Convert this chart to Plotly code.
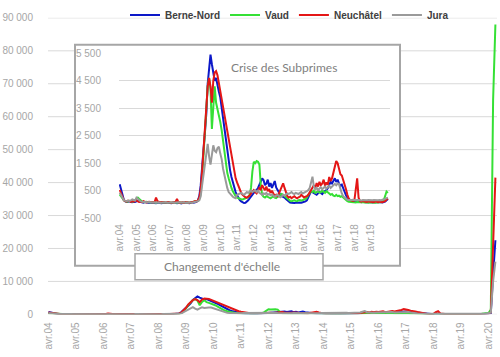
import plotly.graph_objects as go

# ---------------- data (monthly, starting avr.04) ----------------
berne_nord = [
    735, 520, 300, 160, 110, 90, 100, 120, 90, 80, 100, 90,
    110, 130, 100, 80, 70, 60, 90, 70, 60, 50, 70, 60,
    60, 50, 40, 60, 70, 50, 40, 60, 50, 40, 50, 60,
    50, 40, 60, 80, 60, 40, 50, 60, 40, 50, 70, 50,
    60, 50, 40, 60, 80, 60, 70, 90, 150, 300, 700, 1500,
    2000, 2600, 3300, 4400, 5000, 5450, 5100, 4800, 4500, 4600, 4300, 4100,
    3900, 3500, 3100, 2700, 2300, 1900, 1600, 1250, 1000, 800, 600, 450,
    330, 230, 160, 110, 70, 50, 60, 90, 150, 220, 300, 350,
    420, 480, 520, 600, 700, 820, 950, 880, 700, 760, 900, 650,
    780, 600, 700, 850, 620, 520, 450, 350, 300, 280, 250, 200,
    150, 100, 70, 60, 50, 50, 60, 50, 60, 70, 60, 80,
    90, 110, 150, 250, 350, 480, 450, 400, 380, 350, 420, 460,
    420, 380, 450, 480, 520, 600, 700, 820, 760, 880, 950, 820,
    900, 760, 680, 720, 600, 420, 330, 250, 180, 150, 130, 120,
    110, 100, 120, 100, 90, 80, 90, 100, 80, 70, 80, 90,
    80, 70, 90, 80, 70, 80, 90, 80, 70, 90, 100, 150,
    200, 400, 12000, 22500,
]
vaud = [
    360, 280, 200, 150, 120, 100, 110, 130, 120, 100, 110, 150,
    220, 250, 200, 140, 110, 90, 80, 100, 90, 80, 70, 90,
    80, 70, 60, 80, 90, 70, 60, 70, 80, 60, 70, 80,
    70, 60, 70, 90, 80, 60, 70, 80, 60, 70, 80, 70,
    80, 70, 60, 80, 90, 80, 100, 110, 130, 200, 400, 1000,
    1800, 2800, 3600, 4300, 4600, 4200, 2750, 3800, 4300, 3700, 3500, 3300,
    3000, 2700, 2300, 1900, 1400, 1150, 950, 750, 600, 480, 380, 300,
    250, 220, 200, 190, 180, 200, 220, 230, 260, 350, 600, 1200,
    1550, 1500, 1580, 1550, 1450, 700, 350, 280, 250, 300, 280, 240,
    220, 260, 300, 250, 230, 280, 300, 350, 380, 350, 300, 250,
    200, 150, 130, 120, 140, 150, 130, 120, 150, 160, 140, 150,
    180, 200, 250, 350, 420, 480, 450, 500, 420, 460, 480, 430,
    450, 500, 460, 420, 480, 450, 400, 350, 380, 320, 300, 350,
    300, 320, 280, 300, 250, 200, 150, 120, 100, 90, 80, 90,
    80, 70, 90, 80, 70, 80, 90, 70, 80, 70, 60, 80,
    70, 80, 70, 60, 80, 70, 90, 80, 100, 150, 300, 470,
    420, 1500, 65000, 88000,
]
neuchatel = [
    530, 420, 280, 150, 120, 100, 140, 110, 90, 120, 100, 130,
    150, 110, 90, 100, 80, 120, 90, 70, 80, 100, 90, 80,
    70, 90, 250, 120, 80, 70, 90, 80, 60, 70, 80, 90,
    70, 60, 80, 70, 90, 200, 80, 60, 70, 80, 60, 90,
    80, 70, 60, 90, 80, 100, 120, 110, 150, 250, 550, 1200,
    2000, 3000, 3800, 4300, 4600, 4300, 3700, 4500, 4800, 4850, 4700, 4400,
    4100, 3800, 3500, 3200, 2900, 2600, 2300, 2000, 1700, 1400, 1150, 950,
    800, 650, 520, 420, 350, 300, 260, 250, 280, 320, 400, 480,
    520, 450, 400, 500, 600, 550, 700, 600, 520, 650, 480, 560,
    420, 500, 380, 300, 350, 280, 400, 550, 700, 770, 600, 400,
    300, 250, 280, 230, 260, 300, 250, 220, 260, 280, 350, 300,
    250, 280, 300, 350, 450, 550, 620, 700, 600, 780, 650, 820,
    700, 760, 900, 680, 800, 720, 1000, 850, 950, 1150, 1350, 1580,
    1500, 1300, 1100, 1050, 900, 700, 550, 350, 200, 160, 140, 130,
    150, 650, 950, 250, 120, 100, 130, 110, 100, 90, 110, 100,
    90, 100, 80, 110, 90, 80, 100, 90, 80, 100, 120, 180,
    220, 600, 24000, 41500,
]
jura = [
    430, 330, 220, 150, 130, 120, 140, 130, 150, 180, 160, 140,
    250, 200, 150, 110, 100, 90, 100, 90, 80, 90, 80, 70,
    70, 80, 60, 70, 80, 60, 70, 60, 70, 80, 60, 70,
    60, 70, 80, 60, 70, 60, 80, 70, 60, 70, 80, 60,
    70, 60, 80, 70, 60, 80, 90, 100, 120, 150, 300, 700,
    1100, 1500, 1900, 2200, 1750, 1450, 1800, 2150, 1950, 1900, 2050, 2100,
    1850, 1650, 1300, 1050, 800, 600, 450, 380, 330, 280, 250, 230,
    350, 380, 400, 420, 380, 350, 400, 450, 420, 480, 500, 450,
    480, 520, 450, 500, 420, 380, 350, 400, 380, 420, 350, 380,
    330, 360, 300, 280, 320, 350, 300, 260, 300, 350, 320, 380,
    400, 380, 420, 450, 400, 380, 420, 400, 380, 420, 450, 400,
    420, 450, 480, 520, 600, 800, 1010, 650, 550, 600, 520, 580,
    620, 550, 600, 650, 580, 620, 680, 600, 650, 720, 750, 700,
    760, 740, 550, 400, 300, 250, 200, 170, 160, 150, 160, 170,
    160, 150, 170, 160, 150, 140, 160, 150, 140, 150, 160, 150,
    140, 150, 160, 150, 140, 150, 160, 150, 170, 180, 200, 230,
    250, 500, 10000, 16000,
]

series_names = ["Berne-Nord", "Vaud", "Neuchâtel", "Jura"]
series_colors = ["#0c18c8", "#35e035", "#e41616", "#9a9a9a"]

main_tick_text = ["avr.%02d" % y for y in range(4, 21)]
inset_tick_text = ["avr.%02d" % y for y in range(4, 20)]
main_y_ticks = [0, 10000, 20000, 30000, 40000, 50000, 60000, 70000, 80000, 90000]
main_y_text = ["0", "10 000", "20 000", "30 000", "40 000", "50 000",
               "60 000", "70 000", "80 000", "90 000"]
inset_y_ticks = [-500, 500, 1500, 2500, 3500, 4500, 5500]
inset_y_text = ["-500", "500", "1 500", "2 500", "3 500", "4 500", "5 500"]
inset_last = 193  # inset shows data before the 2020 jump

# ---------------- figure ----------------
W, H = 500, 357
FONT = "Liberation Sans, Arial, sans-serif"
ANNFONT = "Lato, Liberation Sans, sans-serif"
TICKCOL = "#a6a6a6"
GRIDCOL = "#d9d9d9"


def px(x):
    return x / W


def py(y):
    return (H - y) / H


all_series = [berne_nord, vaud, neuchatel, jura]
n = len(berne_nord)
xs = list(range(n))

fig = go.Figure()
for name, col, vals in zip(series_names, series_colors, all_series):
    fig.add_trace(go.Scatter(x=xs, y=vals, mode="lines", name=name,
                             line=dict(color=col, width=2),
                             xaxis="x", yaxis="y", showlegend=True,
                             hoverinfo="skip"))
for name, col, vals in zip(series_names, series_colors, all_series):
    fig.add_trace(go.Scatter(x=xs[:inset_last], y=vals[:inset_last], mode="lines",
                             name=name, line=dict(color=col, width=2),
                             xaxis="x2", yaxis="y2", showlegend=False,
                             hoverinfo="skip"))

main_x0, main_x1 = 48, 497
main_y0, main_y1 = 314, 15
in_x0, in_x1 = 119, 390
in_y0, in_y1 = 217, 50.7

tickfont = dict(family=FONT, size=10, color=TICKCOL)

fig.update_layout(
    template="none",
    width=W, height=H, autosize=False,
    margin=dict(l=0, r=0, t=0, b=0, pad=0),
    paper_bgcolor="white", plot_bgcolor="rgba(0,0,0,0)",
    font=dict(family=FONT, size=10, color=TICKCOL),
    hovermode=False,
    xaxis=dict(domain=[px(main_x0), px(main_x1)], range=[-0.2, 195.7],
               tickmode="array", tickvals=[12 * k for k in range(len(main_tick_text))],
               ticktext=main_tick_text, tickangle=-90, showgrid=False,
               zeroline=False, showline=False, ticks="", automargin=False,
               tickfont=tickfont, ticklabelstandoff=5, anchor="y"),
    yaxis=dict(domain=[py(main_y0), py(main_y1)], range=[0, 90000],
               tickmode="array", tickvals=main_y_ticks, ticktext=main_y_text,
               showgrid=False, zeroline=False, showline=False, ticks="",
               automargin=False, tickfont=tickfont, ticklabelstandoff=14,
               anchor="x"),
    xaxis2=dict(domain=[px(in_x0), px(in_x1)], range=[-0.5, 193.5],
                tickmode="array", tickvals=[12 * k for k in range(len(inset_tick_text))],
                ticktext=inset_tick_text, tickangle=-90, showgrid=False,
                zeroline=False, showline=False, ticks="", automargin=False,
                tickfont=tickfont, ticklabelstandoff=3, anchor="y2"),
    yaxis2=dict(domain=[py(in_y0), py(in_y1)], range=[-500, 5500],
                tickmode="array", tickvals=inset_y_ticks, ticktext=inset_y_text,
                showgrid=True, gridcolor=GRIDCOL, gridwidth=1,
                zeroline=False, showline=False, ticks="", automargin=False,
                tickfont=tickfont, ticklabelstandoff=17, anchor="x2"),
    legend=dict(orientation="h", x=px(125), y=py(12), xanchor="left",
                yanchor="middle", bgcolor="rgba(0,0,0,0)", borderwidth=0,
                font=dict(family=FONT, size=10, color="#404040", weight="bold"),
                itemclick=False, itemdoubleclick=False),
    showlegend=True,
)

# main horizontal gridlines (drawn under the inset panel)
for v in main_y_ticks:
    fig.add_shape(type="line", xref="paper", yref="y",
                  x0=px(main_x0), x1=px(main_x1), y0=v, y1=v,
                  line=dict(color=GRIDCOL, width=1), layer="below")

# inset white panel
fig.add_shape(type="rect", xref="paper", yref="paper",
              x0=px(75), x1=px(400), y0=py(265), y1=py(42),
              fillcolor="white", line=dict(color="#a6a6a6", width=2),
              layer="below")

# "Changement d'échelle" box
fig.add_shape(type="rect", xref="paper", yref="paper",
              x0=px(135), x1=px(323), y0=py(279), y1=py(253),
              fillcolor="white", line=dict(color="#a6a6a6", width=1.5),
              layer="above")
fig.add_annotation(x=px(221.5), y=py(266), xref="paper", yref="paper",
                   text="Changement d'échelle", showarrow=False,
                   font=dict(family=ANNFONT, size=12, color="#808080"),
                   xanchor="center", yanchor="middle")
fig.add_annotation(x=px(283.5), y=py(65), xref="paper", yref="paper",
                   text="Crise des Subprimes", showarrow=False,
                   font=dict(family=ANNFONT, size=12, color="#808080"),
                   xanchor="center", yanchor="middle")

fig.write_html(
    "out.html",
    config={"displayModeBar": False, "staticPlot": True},
    post_script="document.body.style.margin='0';document.body.style.padding='0';"
                "document.body.style.overflow='hidden';",
)
